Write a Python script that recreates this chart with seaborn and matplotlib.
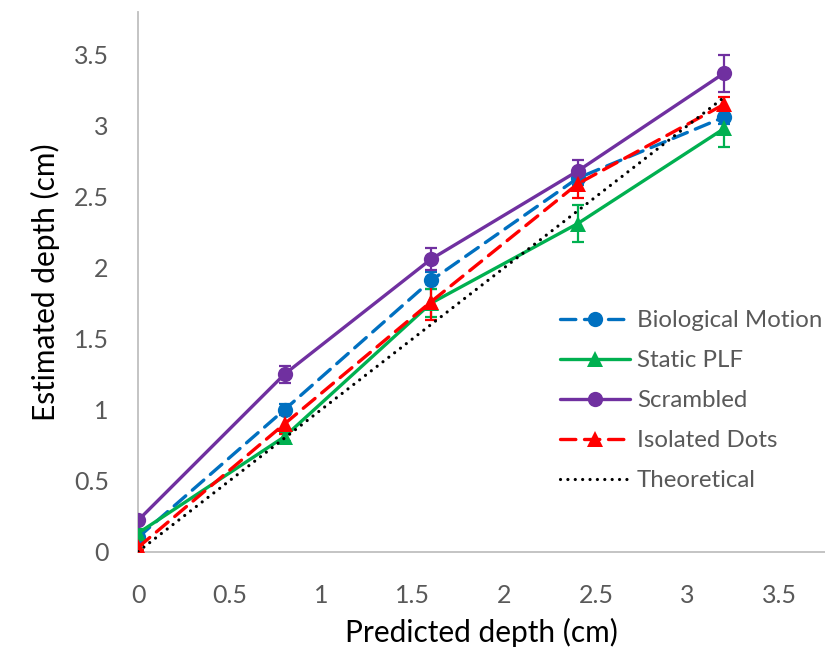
import numpy as np
import matplotlib
matplotlib.use("Agg")
import matplotlib.pyplot as plt
import seaborn as sns
from matplotlib.ticker import FuncFormatter, MultipleLocator

# ------------------ DATA ------------------
predicted = [0, 0.8, 1.6, 2.4, 3.2]

bio_motion = [0.10, 1.00, 1.91, 2.63, 3.06]
bio_motion_err = [0.03, 0.04, 0.06, 0.05, 0.05]

static_plf = [0.13, 0.81, 1.75, 2.31, 2.98]
static_plf_err = [0.03, 0.03, 0.10, 0.13, 0.13]

scrambled = [0.22, 1.25, 2.06, 2.68, 3.37]
scrambled_err = [0.02, 0.06, 0.08, 0.08, 0.13]

isolated_dots = [0.03, 0.90, 1.76, 2.59, 3.15]
isolated_dots_err = [0.02, 0.07, 0.13, 0.10, 0.05]

theoretical = [0, 0.8, 1.6, 2.4, 3.2]

# ------------------ STYLE ------------------
sns.set_style("white")
plt.rcParams["font.family"] = ["Lato", "DejaVu Sans"]

tick_grey = "#595959"
axis_grey = "#bfbfbf"

fig = plt.figure(figsize=(8.25, 6.58), dpi=100)
ax = fig.add_axes([0.1673, 0.1616, 0.8327, 0.8202])

series = [
    ("Biological Motion", bio_motion, bio_motion_err, "#0070C0", "o", (0, (4.6, 2.6))),
    ("Static PLF", static_plf, static_plf_err, "#00B050", "^", "-"),
    ("Scrambled", scrambled, scrambled_err, "#7030A0", "o", "-"),
    ("Isolated Dots", isolated_dots, isolated_dots_err, "#FF0000", "^", (0, (4.6, 2.6))),
]

for label, vals, errs, color, marker, ls in series:
    ax.errorbar(predicted, vals, yerr=errs, fmt="none", ecolor=color,
                elinewidth=1.6, capsize=4.3, capthick=1.6, zorder=2)
    sns.lineplot(x=predicted, y=vals, ax=ax, color=color, marker=marker,
                 markersize=11, markeredgewidth=0, linewidth=2.4,
                 linestyle=ls, dash_capstyle="round", label=label,
                 errorbar=None, zorder=3)

sns.lineplot(x=predicted, y=theoretical, ax=ax, color="black",
             linestyle=(0, (0.01, 2.3)), linewidth=2.3,
             dash_capstyle="round", label="Theoretical", errorbar=None, zorder=4)

# ------------------ AXES ------------------
ax.set_xlim(0, 3.75)
ax.set_ylim(0, 3.8)
ax.xaxis.set_major_locator(MultipleLocator(0.5))
ax.yaxis.set_major_locator(MultipleLocator(0.5))
fmt = FuncFormatter(lambda v, p: f"{v:g}")
ax.xaxis.set_major_formatter(fmt)
ax.yaxis.set_major_formatter(fmt)

for side in ["top", "right"]:
    ax.spines[side].set_visible(False)
for side in ["left", "bottom"]:
    ax.spines[side].set_color(axis_grey)
    ax.spines[side].set_linewidth(1.3)

ax.tick_params(axis="both", direction="in", length=7, width=1.3,
               color=axis_grey, labelcolor=tick_grey, labelsize=18)
ax.tick_params(axis="x", pad=23)
ax.tick_params(axis="y", pad=21)

ax.set_xlabel("Predicted depth (cm)", fontsize=21.5, color="black", labelpad=8)
ax.set_ylabel("Estimated depth (cm)", fontsize=21.5, color="black", labelpad=10)

leg = ax.legend(loc="upper left", bbox_to_anchor=(560 / 825, 1 - 310 / 658),
                bbox_transform=fig.transFigure, frameon=False, fontsize=17.3,
                handlelength=2.9, handletextpad=0.3, labelspacing=0.79,
                borderpad=0, borderaxespad=0, numpoints=1)
for t in leg.get_texts():
    t.set_color(tick_grey)

fig.savefig("out.png", dpi=100)
